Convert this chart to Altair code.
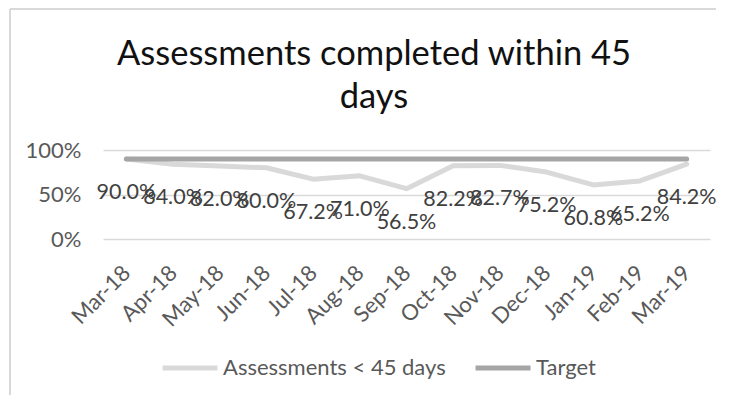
import altair as alt
import pandas as pd

months = ["Mar-18", "Apr-18", "May-18", "Jun-18", "Jul-18", "Aug-18", "Sep-18",
          "Oct-18", "Nov-18", "Dec-18", "Jan-19", "Feb-19", "Mar-19"]
assessments = [0.900, 0.840, 0.820, 0.800, 0.672, 0.710, 0.565,
               0.822, 0.827, 0.752, 0.608, 0.652, 0.842]
target = [0.90] * 13
series_names = ["Assessments < 45 days", "Target"]
series_colors = ["#D9D9D9", "#A5A5A5"]
title_lines = ["Assessments completed within 45", "days"]
y_ticks = [0, 0.5, 1.0]

FONT = "Lato"

df = pd.DataFrame({
    "month": months + months,
    "value": assessments + target,
    "series": [series_names[0]] * len(months) + [series_names[1]] * len(months),
})
labels_df = pd.DataFrame({"month": months, "value": assessments})

x_enc = alt.X("month:O", sort=months,
              scale=alt.Scale(type="point", padding=0.5),
              axis=alt.Axis(title=None, labelAngle=-45, labelAlign="right",
                            labelBaseline="middle", labelPadding=30,
                            ticks=False, domain=False, grid=False,
                            labelFont=FONT, labelFontSize=22, labelColor="#595959"))
y_enc = alt.Y("value:Q", scale=alt.Scale(domain=[0, 1], nice=False, zero=True),
              axis=alt.Axis(title=None, values=y_ticks, format=".0%",
                            grid=True, gridColor="#D9D9D9", gridWidth=1.5,
                            domain=False, ticks=False, labelPadding=22,
                            labelFont=FONT, labelFontSize=22, labelColor="#595959"))

lines = alt.Chart(df).mark_line(strokeWidth=5, strokeCap="round", strokeJoin="round").encode(
    x=x_enc,
    y=y_enc,
    color=alt.Color("series:N",
                    scale=alt.Scale(domain=series_names, range=series_colors),
                    legend=alt.Legend(title=None, orient="none", direction="horizontal",
                                      legendX=57, legendY=188,
                                      symbolType="stroke", symbolSize=3025,
                                      symbolStrokeWidth=5, columnPadding=19,
                                      labelOffset=3, labelLimit=400,
                                      labelFont=FONT, labelFontSize=22,
                                      labelColor="#595959")),
)

labels = alt.Chart(labels_df).mark_text(dy=34, font=FONT, fontSize=21.5, color="#404040").encode(
    x=alt.X("month:O", sort=months),
    y="value:Q",
    text=alt.Text("value:Q", format=".1%"),
)

frame_data = alt.Data(values=[{"k": 1}])
left_border = alt.Chart(frame_data).mark_rule(color="#D9D9D9", strokeWidth=2).encode(
    x=alt.value(-93), y=alt.value(-141), y2=alt.value(245))
top_border = alt.Chart(frame_data).mark_rule(color="#D9D9D9", strokeWidth=2).encode(
    x=alt.value(-93), x2=alt.value(613), y=alt.value(-141))

chart = alt.layer(left_border, top_border, lines, labels).properties(
    width=607, height=89,
    autosize=alt.AutoSizeParams(type="none"),
    padding={"left": 95, "top": 142, "right": 6, "bottom": 156},
    title=alt.TitleParams(text=title_lines, font=FONT, fontSize=34.5, fontWeight="normal",
                          color="#111111", anchor="middle", baseline="bottom",
                          lineHeight=43, offset=0, dx=-32.5, dy=141),
).configure_view(stroke=None)

chart.save("out.html", embed_options={"renderer": "svg", "actions": False})
